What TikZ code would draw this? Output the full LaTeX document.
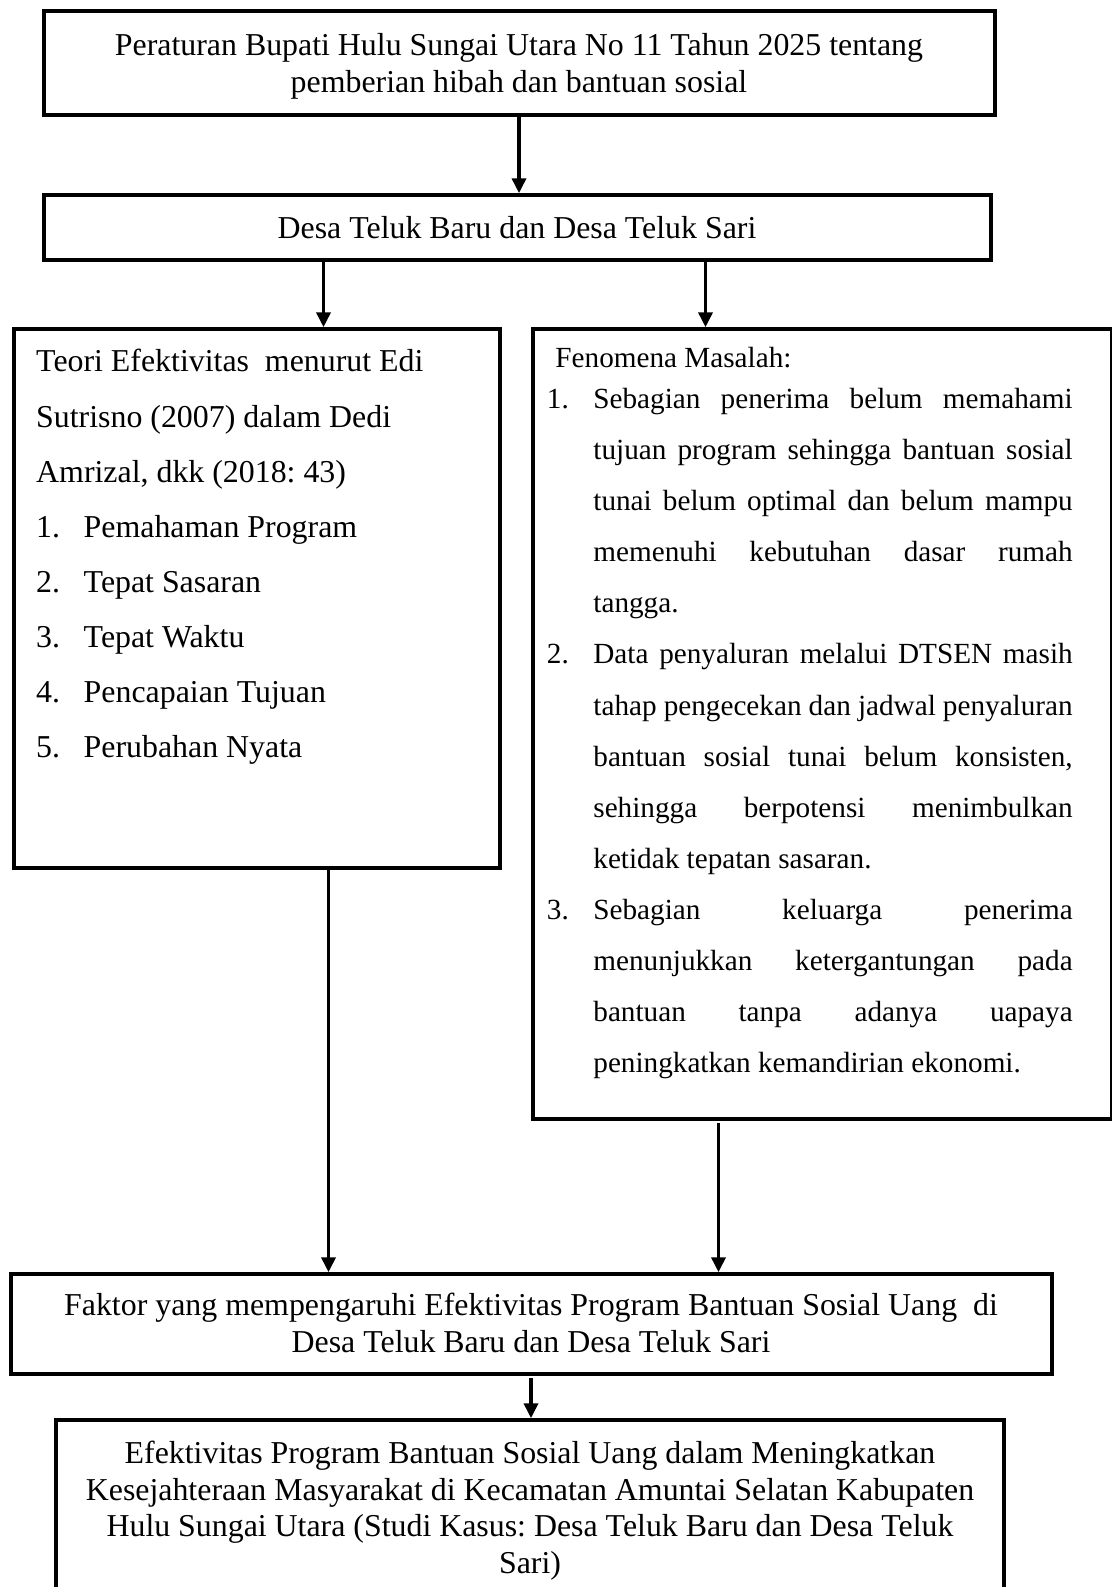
\documentclass[tikz,border=0pt]{standalone}
\usepackage{fontspec}
\setmainfont{Liberation Serif}
\usetikzlibrary{arrows.meta,fit}
\newcommand\nsp{\spaceskip=0.25em\relax\xspaceskip=\spaceskip}
\newcommand\jl[1]{\hbox to 180.5pt{\spaceskip=0.25em plus 1fil minus 0.06em\relax\xspaceskip=\spaceskip #1}}
\begin{document}
\frenchspacing
\begin{tikzpicture}[x=0.3766pt,y=-0.3766pt,
  box/.style={draw,line width=1.3pt,inner sep=0pt},
  arr/.style={line width=1.4pt,-{Triangle[length=5.6pt,width=5.2pt]}},
  txt/.style={inner sep=0pt,anchor=base},
  fb/.style={font=\fontsize{12}{13.8}\selectfont}]
\useasboundingbox[fill=white] (0,0) rectangle (1111,1587);
% boxes
\node[box,fit={(44,11) (995,115)}] (b1) {};
\node[box,fit={(44,195) (991,260)}] (b2) {};
\node[box,fit={(14,329) (500,868)}] (lb) {};
\node[box,fit={(533,329) (1112,1119)}] (rb) {};
\node[box,fit={(11,1274) (1052,1374)}] (b4) {};
\node[box,fit={(56,1420) (1004,1597)}] (b5) {};
% texts
\node[txt,fb,text width=380pt,align=center] (t1) at (519,56)
  {\nsp Peraturan Bupati Hulu Sungai Utara No 11 Tahun 2025 tentang\\pemberian hibah dan bantuan sosial};
\node[txt,fb,text width=380pt,align=center] (t2) at (517,238.3)
  {\nsp Desa Teluk Baru dan Desa Teluk Sari};
\node[txt,anchor=base west,font=\fontsize{12}{20.75}\selectfont,text width=175pt,align=left] (tl) at (35.7,372)
  {\nsp Teori Efektivitas\ \ menurut Edi\\
   Sutrisno (2007) dalam Dedi\\
   Amrizal, dkk (2018: 43)\\
   \makebox[17.9pt][l]{1.}Pemahaman Program\\
   \makebox[17.9pt][l]{2.}Tepat Sasaran\\
   \makebox[17.9pt][l]{3.}Tepat Waktu\\
   \makebox[17.9pt][l]{4.}Pencapaian Tujuan\\
   \makebox[17.9pt][l]{5.}Perubahan Nyata};
\node[txt,anchor=base west,font=\fontsize{11}{19.25}\selectfont,text width=205pt,align=left] (tr) at (546.4,367.7)
  {\nsp\hspace*{3.2pt}Fenomena Masalah:\\[-3.95pt]
   \makebox[17.5pt][l]{1.}\jl{Sebagian penerima belum memahami}\\
   \hspace*{17.5pt}\jl{tujuan program sehingga bantuan sosial}\\
   \hspace*{17.5pt}\jl{tunai belum optimal dan belum mampu}\\
   \hspace*{17.5pt}\jl{memenuhi kebutuhan dasar rumah}\\
   \hspace*{17.5pt}tangga.\\
   \makebox[17.5pt][l]{2.}\jl{Data penyaluran melalui DTSEN masih}\\
   \hspace*{17.5pt}\jl{tahap pengecekan dan jadwal penyaluran}\\
   \hspace*{17.5pt}\jl{bantuan sosial tunai belum konsisten,}\\
   \hspace*{17.5pt}\jl{sehingga berpotensi menimbulkan}\\
   \hspace*{17.5pt}ketidak tepatan sasaran.\\
   \makebox[17.5pt][l]{3.}\jl{Sebagian keluarga penerima}\\
   \hspace*{17.5pt}\jl{menunjukkan ketergantungan pada}\\
   \hspace*{17.5pt}\jl{bantuan tanpa adanya uapaya}\\
   \hspace*{17.5pt}peningkatkan kemandirian ekonomi.};
\node[txt,fb,text width=395pt,align=center] (t4) at (531,1315.5)
  {\nsp Faktor yang mempengaruhi Efektivitas Program Bantuan Sosial Uang\ \ di\\Desa Teluk Baru dan Desa Teluk Sari};
\node[txt,fb,text width=380pt,align=center] (t5) at (530,1463.5)
  {\nsp Efektivitas Program Bantuan Sosial Uang dalam Meningkatkan\\
   Kesejahteraan Masyarakat di Kecamatan Amuntai Selatan Kabupaten\\
   Hulu Sungai Utara (Studi Kasus: Desa Teluk Baru dan Desa Teluk\\
   Sari)};
% connectors
\draw[arr] (b1.south -| 519,0) -- (b2.north -| 519,0);
\draw[arr] (b2.south -| 323.5,0) -- (lb.north -| 323.5,0);
\draw[arr] (b2.south -| 705.5,0) -- (rb.north -| 705.5,0);
\draw[arr] (lb.south -| 328.5,0) -- (b4.north -| 328.5,0);
\draw[arr,shorten <=0.8pt] (rb.south -| 718.5,0) -- (b4.north -| 718.5,0);
\draw[arr,shorten <=0.8pt] (b4.south -| 531,0) -- (b5.north -| 531,0);
\end{tikzpicture}
\end{document}
